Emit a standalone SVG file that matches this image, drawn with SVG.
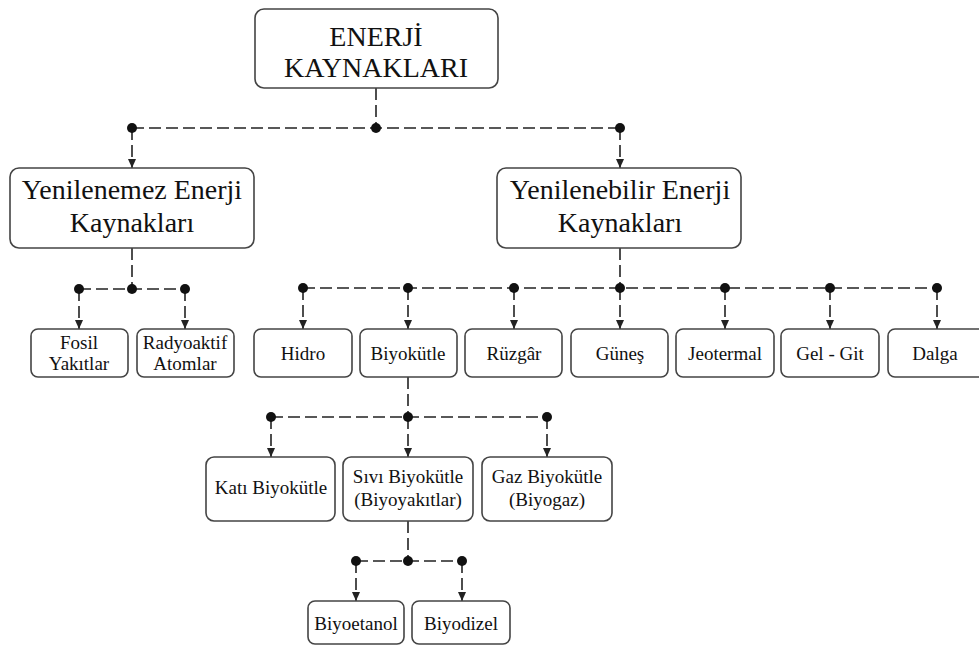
<svg xmlns="http://www.w3.org/2000/svg" width="979" height="646" viewBox="0 0 979 646">
<defs>
<marker id="ah" markerWidth="10" markerHeight="8" refX="9" refY="4" orient="auto" markerUnits="userSpaceOnUse">
<path d="M0,0 L9,4 L0,8 Z" fill="#222"/>
</marker>
<style>
.box{fill:#fff;stroke:#444;stroke-width:1.6}
.c line{stroke:#222;stroke-width:1.6;stroke-dasharray:12 5}
.c line.a{marker-end:url(#ah)}
.c circle{fill:#111}
</style>
</defs>
<rect width="979" height="646" fill="#fff"/>
<g id="connectors" class="c">
<line x1="376" y1="88" x2="376" y2="128"/>
<line x1="132" y1="128" x2="620" y2="128"/>
<line class="a" x1="132" y1="128" x2="132" y2="168"/>
<line class="a" x1="620" y1="128" x2="620" y2="168"/>
<circle cx="132" cy="128" r="5"/><circle cx="376" cy="128" r="5"/><circle cx="620" cy="128" r="5"/>
<line x1="132" y1="248" x2="132" y2="289"/>
<line x1="79" y1="289" x2="185" y2="289"/>
<line class="a" x1="79" y1="289" x2="79" y2="329"/>
<line class="a" x1="185" y1="289" x2="185" y2="329"/>
<circle cx="79" cy="289" r="5"/><circle cx="132" cy="289" r="5"/><circle cx="185" cy="289" r="5"/>
<line x1="620" y1="248" x2="620" y2="288"/>
<line x1="303" y1="288" x2="937" y2="288"/>
<line class="a" x1="303" y1="288" x2="303" y2="329"/>
<line class="a" x1="408" y1="288" x2="408" y2="329"/>
<line class="a" x1="514" y1="288" x2="514" y2="329"/>
<line class="a" x1="620" y1="288" x2="620" y2="329"/>
<line class="a" x1="725" y1="288" x2="725" y2="329"/>
<line class="a" x1="830" y1="288" x2="830" y2="329"/>
<line class="a" x1="937" y1="288" x2="937" y2="329"/>
<circle cx="303" cy="288" r="5"/><circle cx="408" cy="288" r="5"/><circle cx="514" cy="288" r="5"/><circle cx="620" cy="288" r="5"/><circle cx="725" cy="288" r="5"/><circle cx="830" cy="288" r="5"/><circle cx="937" cy="288" r="5"/>
<line x1="408" y1="377" x2="408" y2="417"/>
<line x1="271" y1="417" x2="547" y2="417"/>
<line class="a" x1="271" y1="417" x2="271" y2="457"/>
<line class="a" x1="408" y1="417" x2="408" y2="457"/>
<line class="a" x1="547" y1="417" x2="547" y2="457"/>
<circle cx="271" cy="417" r="5"/><circle cx="408" cy="417" r="5"/><circle cx="547" cy="417" r="5"/>
<line x1="408" y1="521" x2="408" y2="561"/>
<line x1="356" y1="561" x2="462" y2="561"/>
<line class="a" x1="356" y1="561" x2="356" y2="601"/>
<line class="a" x1="462" y1="561" x2="462" y2="601"/>
<circle cx="356" cy="561" r="5"/><circle cx="408" cy="561" r="5"/><circle cx="462" cy="561" r="5"/>
</g>
<g id="root"><rect class="box" x="255" y="9" width="243" height="79" rx="9"/>
<text x="376" y="46" font-family="Liberation Serif" font-size="28" text-anchor="middle" fill="#111">ENERJİ</text><text x="376" y="77" font-family="Liberation Serif" font-size="28" text-anchor="middle" fill="#111">KAYNAKLARI</text></g>
<g id="yenilenemez"><rect class="box" x="10" y="168" width="244" height="80" rx="9"/>
<text x="132" y="199" font-family="Liberation Serif" font-size="28" text-anchor="middle" fill="#111">Yenilenemez Enerji</text><text x="132" y="232" font-family="Liberation Serif" font-size="28" text-anchor="middle" fill="#111">Kaynakları</text></g>
<g id="yenilenebilir"><rect class="box" x="497" y="168" width="244" height="80" rx="9"/>
<text x="620" y="199" font-family="Liberation Serif" font-size="28" text-anchor="middle" fill="#111">Yenilenebilir Enerji</text><text x="620" y="232" font-family="Liberation Serif" font-size="28" text-anchor="middle" fill="#111">Kaynakları</text></g>
<g id="fosil"><rect class="box" x="31" y="329" width="97" height="48" rx="7"/>
<text x="79" y="349" font-family="Liberation Serif" font-size="19" text-anchor="middle" fill="#111">Fosil</text><text x="79" y="370" font-family="Liberation Serif" font-size="19" text-anchor="middle" fill="#111">Yakıtlar</text></g>
<g id="radyoaktif"><rect class="box" x="137" y="329" width="97" height="48" rx="7"/>
<text x="185" y="349" font-family="Liberation Serif" font-size="19" text-anchor="middle" fill="#111">Radyoaktif</text><text x="185" y="370" font-family="Liberation Serif" font-size="19" text-anchor="middle" fill="#111">Atomlar</text></g>
<g id="hidro"><rect class="box" x="254" y="329" width="98" height="48" rx="7"/><text x="303" y="360" font-family="Liberation Serif" font-size="19" text-anchor="middle" fill="#111">Hidro</text></g>
<g id="biyokutle"><rect class="box" x="360" y="329" width="97" height="48" rx="7"/><text x="408" y="360" font-family="Liberation Serif" font-size="19" text-anchor="middle" fill="#111">Biyokütle</text></g>
<g id="ruzgar"><rect class="box" x="465" y="329" width="97" height="48" rx="7"/><text x="514" y="360" font-family="Liberation Serif" font-size="19" text-anchor="middle" fill="#111">Rüzgâr</text></g>
<g id="gunes"><rect class="box" x="571" y="329" width="97" height="48" rx="7"/><text x="620" y="360" font-family="Liberation Serif" font-size="19" text-anchor="middle" fill="#111">Güneş</text></g>
<g id="jeotermal"><rect class="box" x="676" y="329" width="98" height="48" rx="7"/><text x="725" y="360" font-family="Liberation Serif" font-size="19" text-anchor="middle" fill="#111">Jeotermal</text></g>
<g id="gelgit"><rect class="box" x="781" y="329" width="98" height="48" rx="7"/><text x="830" y="360" font-family="Liberation Serif" font-size="19" text-anchor="middle" fill="#111">Gel - Git</text></g>
<g id="dalga"><rect class="box" x="888" y="329" width="98" height="48" rx="7"/><text x="935" y="360" font-family="Liberation Serif" font-size="19" text-anchor="middle" fill="#111">Dalga</text></g>
<g id="kati"><rect class="box" x="206" y="457" width="129" height="64" rx="8"/><text x="271" y="494" font-family="Liberation Serif" font-size="19" text-anchor="middle" fill="#111">Katı Biyokütle</text></g>
<g id="sivi"><rect class="box" x="343" y="457" width="130" height="64" rx="8"/>
<text x="408" y="483" font-family="Liberation Serif" font-size="19" text-anchor="middle" fill="#111">Sıvı Biyokütle</text><text x="408" y="506" font-family="Liberation Serif" font-size="19" text-anchor="middle" fill="#111">(Biyoyakıtlar)</text></g>
<g id="gaz"><rect class="box" x="482" y="457" width="130" height="64" rx="8"/>
<text x="547" y="483" font-family="Liberation Serif" font-size="19" text-anchor="middle" fill="#111">Gaz Biyokütle</text><text x="547" y="506" font-family="Liberation Serif" font-size="19" text-anchor="middle" fill="#111">(Biyogaz)</text></g>
<g id="biyoetanol"><rect class="box" x="308" y="601" width="96" height="43" rx="7"/><text x="356" y="630" font-family="Liberation Serif" font-size="19" text-anchor="middle" fill="#111">Biyoetanol</text></g>
<g id="biyodizel"><rect class="box" x="412" y="601" width="98" height="43" rx="7"/><text x="461" y="630" font-family="Liberation Serif" font-size="19" text-anchor="middle" fill="#111">Biyodizel</text></g>
</svg>
